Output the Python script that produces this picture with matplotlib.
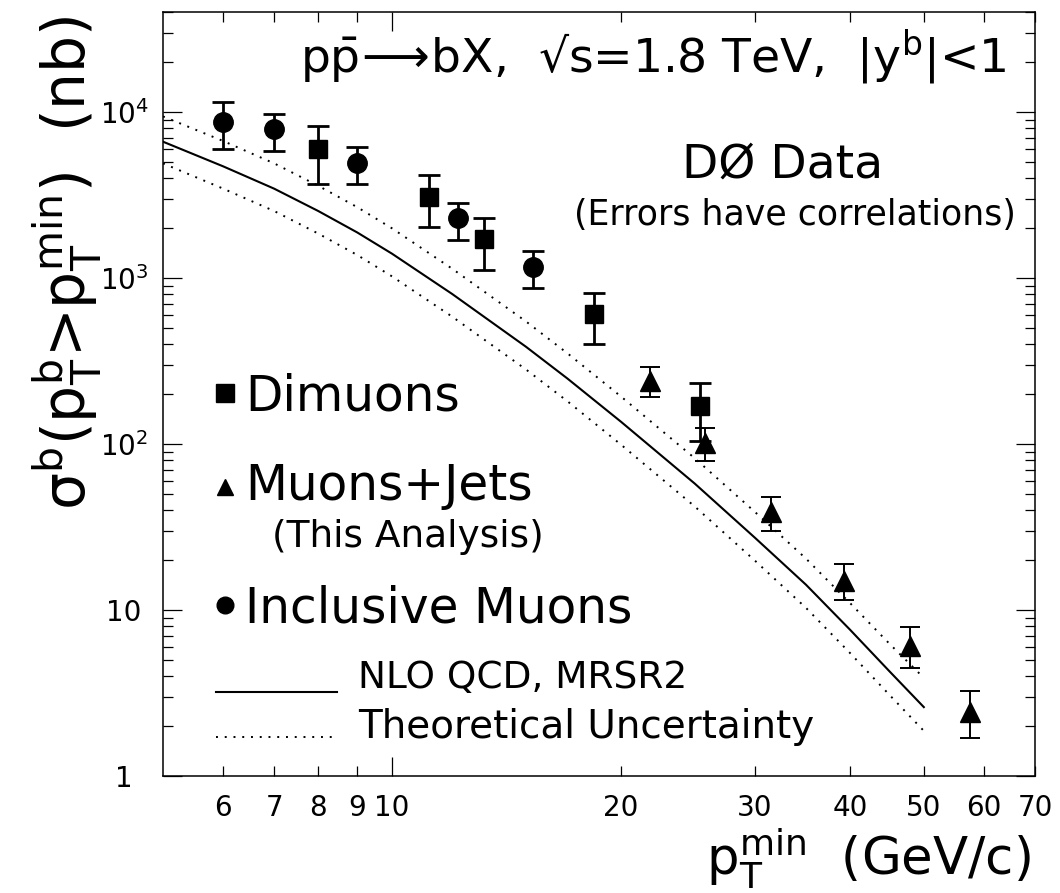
import numpy as np
import matplotlib.pyplot as plt
from matplotlib.ticker import FixedLocator, FixedFormatter, NullFormatter, LogLocator

# NLO QCD (MRSR2) prediction and theoretical band, sigma in nb
pt_theory = [5, 6, 7, 8, 9, 10, 12, 15, 17, 20, 25, 30, 35, 40, 45, 50]
sigma_nlo = [6620, 4700, 3450, 2530, 1880, 1400, 800, 385, 248, 136, 57.7, 27.2, 14.2, 7.6, 4.3, 2.6]
sigma_hi = [9400, 6680, 4900, 3590, 2670, 1990, 1136, 547, 352, 193, 82, 38.9, 20.4, 11.0, 6.3, 3.9]
sigma_lo = [4900, 3450, 2530, 1850, 1375, 1022, 584, 281, 181, 99, 42, 19.8, 10.3, 5.5, 3.1, 1.87]

# dimuons
pt_dimu = [8, 11.2, 13.2, 18.4, 25.4]
sig_dimu = [5990, 3080, 1720, 607, 169]
hi_dimu = [8240, 4170, 2300, 812, 233]
lo_dimu = [3680, 2030, 1120, 400, 104]

# muons + jets
pt_mujet = [21.8, 25.8, 31.5, 39.3, 48.0, 57.5]
sig_mujet = [239, 101, 39, 15, 6.1, 2.43]
hi_mujet = [291, 125, 48, 18.9, 7.9, 3.25]
lo_mujet = [192, 79, 30, 11.5, 4.47, 1.69]

# inclusive muons
pt_incl = [6, 7, 9, 12.2, 15.3]
sig_incl = [8700, 7900, 4930, 2300, 1165]
hi_incl = [11500, 9720, 6150, 2830, 1455]
lo_incl = [5990, 5820, 3680, 1694, 870]

xtick_vals = [6, 7, 8, 9, 20, 30, 40, 50, 60, 70]
ytick_vals = [1, 10, 100, 1000, 10000]
ytick_labels = ['1', '10', r'$\mathregular{10^{2}}$', r'$\mathregular{10^{3}}$',
                r'$\mathregular{10^{4}}$']

fig = plt.figure(figsize=(10.6, 8.93), dpi=100)
ax = fig.add_axes([163 / 1060, 1 - 776 / 893, 872 / 1060, 764 / 893])
ax.set_xscale('log')
ax.set_yscale('log')
ax.set_xlim(5, 70)
ax.set_ylim(1, 4e4)

ax.plot(pt_theory, sigma_nlo, color='black', lw=1.5)
ax.plot(pt_theory, sigma_hi, color='black', lw=1.4, ls=(0, (1, 3.5)))
ax.plot(pt_theory, sigma_lo, color='black', lw=1.4, ls=(0, (1, 3.5)))


def draw_points(pt, sig, lo, hi, marker, ms, lw, cap):
    yerr = [np.subtract(sig, lo), np.subtract(hi, sig)]
    ax.errorbar(pt, sig, yerr=yerr, fmt=marker, color='black', ms=ms,
                elinewidth=lw, capsize=cap, capthick=lw, zorder=3)


draw_points(pt_incl, sig_incl, lo_incl, hi_incl, 'o', 14, 2.0, 8)
draw_points(pt_dimu, sig_dimu, lo_dimu, hi_dimu, 's', 13.5, 2.0, 8)
draw_points(pt_mujet, sig_mujet, lo_mujet, hi_mujet, '^', 14, 1.4, 7.5)

# axes and ticks
for sp in ax.spines.values():
    sp.set_linewidth(1.1)
ax.xaxis.set_major_locator(FixedLocator([10]))
ax.xaxis.set_major_formatter(FixedFormatter(['10']))
ax.xaxis.set_minor_locator(FixedLocator(xtick_vals))
ax.xaxis.set_minor_formatter(FixedFormatter([str(v) for v in xtick_vals]))
ax.yaxis.set_major_locator(FixedLocator(ytick_vals))
ax.yaxis.set_major_formatter(FixedFormatter(ytick_labels))
ax.yaxis.set_minor_locator(LogLocator(base=10, subs=np.arange(2, 10)))
ax.yaxis.set_minor_formatter(NullFormatter())
ax.tick_params(which='both', direction='in', top=True, right=True,
               width=0.9, labelsize=20)
ax.tick_params(which='major', length=14)
ax.tick_params(which='minor', length=7)
ax.tick_params(axis='x', which='both', pad=13)
ax.tick_params(axis='y', which='both', pad=28)
for lbl in ax.get_yticklabels():
    lbl.set_horizontalalignment('center')

# annotations
ax.text(0.562, 0.9215, r'p$\mathrm{\bar{p}}\!\longrightarrow\!$bX,  √s=1.8 TeV,  |y$^{\mathrm{b}}$|<1',
        transform=ax.transAxes, fontsize=34, ha='center', va='baseline')
ax.text(0.71, 0.7827, 'DØ Data', transform=ax.transAxes, fontsize=34,
        ha='center', va='baseline')
ax.text(0.725, 0.721, '(Errors have correlations)', transform=ax.transAxes,
        fontsize=25, ha='center', va='baseline')

# legend, drawn by hand
ax.plot([0.0711], [0.5013], 's', color='black', ms=13, transform=ax.transAxes)
ax.plot([0.0711], [0.378], '^', color='black', ms=12, transform=ax.transAxes)
ax.plot([0.0711], [0.2238], 'o', color='black', ms=12, transform=ax.transAxes)
ax.text(0.094, 0.479, 'Dimuons', transform=ax.transAxes, fontsize=35, va='baseline')
ax.text(0.094, 0.3613, 'Muons+Jets', transform=ax.transAxes, fontsize=35, va='baseline')
ax.text(0.125, 0.2997, '(This Analysis)', transform=ax.transAxes, fontsize=27, va='baseline')
ax.text(0.094, 0.2003, 'Inclusive Muons', transform=ax.transAxes, fontsize=35, va='baseline')
ax.plot([0.0608, 0.1995], [0.11, 0.11], color='black', lw=1.5, transform=ax.transAxes)
ax.plot([0.0608, 0.195], [0.051, 0.051], color='black', lw=1.4, ls=(0, (1, 3.5)),
        transform=ax.transAxes)
ax.text(0.2236, 0.1152, 'NLO QCD, MRSR2', transform=ax.transAxes, fontsize=27, va='baseline')
ax.text(0.2236, 0.0497, 'Theoretical Uncertainty', transform=ax.transAxes, fontsize=28,
        va='baseline')

# axis titles
fig.text(0.063, 0.7055,
         r'σ$^{\mathrm{b}}$(p$_{\mathrm{T}}^{\mathrm{b}}$>p$_{\mathrm{T}}^{\mathrm{min}}$)  (nb)',
         rotation=90, fontsize=42, ha='center', va='center')
fig.text(0.972, 0.02, r'p$_{\mathrm{T}}^{\mathrm{min}}$  (GeV/c)', fontsize=37,
         ha='right', va='baseline')

fig.savefig('out.png', dpi=100)
